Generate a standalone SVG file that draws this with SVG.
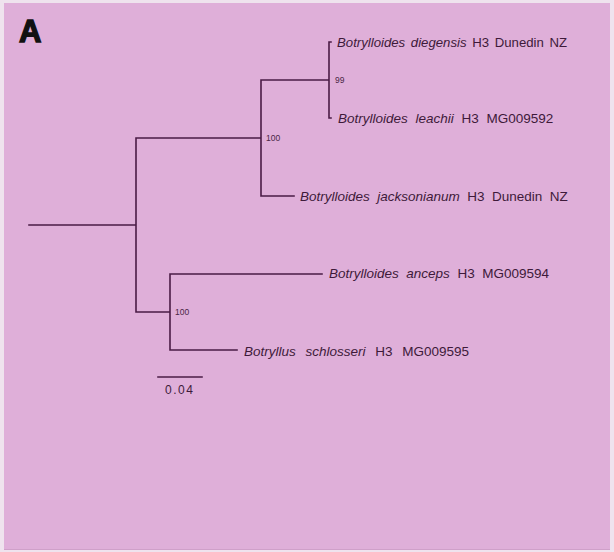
<svg xmlns="http://www.w3.org/2000/svg" width="614" height="552" viewBox="0 0 614 552">
<style>
.br{fill:none;stroke:#4a1c45;stroke-width:1.6;stroke-linecap:square}
.lf{font-family:"Liberation Sans",Arial,sans-serif;font-size:13.5px;fill:#3e1a3a;word-spacing:3px}
.it{font-style:italic}
.sp{font-family:"Liberation Sans",Arial,sans-serif;font-size:8.5px;fill:#4a2646}
</style>
<rect x="0" y="0" width="614" height="552" fill="#efe3ee"/>
<rect x="4" y="3" width="606" height="546" fill="#dfafd9"/>
<line x1="4" y1="549.5" x2="610" y2="549.5" stroke="#cfa0c9" stroke-width="1"/>
<text x="19" y="42" font-family="'Liberation Sans',Arial,sans-serif" font-weight="bold" font-size="31" fill="#111" stroke="#111" stroke-width="1.4">A</text>
<g id="connectors">
<path class="br" d="M29 225H136M136 138V312M136 138H261M261 80V196M261 80H329M329 42V118M329 42H331M329 118H331M261 196H294M136 312H170M170 274V350M170 274H322M170 350H237"/>
</g>
<g id="n99"><text class="sp" x="335" y="83">99</text></g>
<g id="n100a"><text class="sp" x="266" y="141">100</text></g>
<g id="n100b"><text class="sp" x="175" y="315">100</text></g>
<g id="leaf1"><text class="lf" x="337" y="47" style="word-spacing:2px;font-size:13.2px"><tspan class="it">Botrylloides diegensis</tspan> H3 Dunedin NZ</text></g>
<g id="leaf2"><text class="lf" x="338" y="123" style="word-spacing:4px"><tspan class="it">Botrylloides leachii</tspan> H3 MG009592</text></g>
<g id="leaf3"><text class="lf" x="300" y="201" style="word-spacing:3.7px"><tspan class="it">Botrylloides jacksonianum</tspan> H3 Dunedin NZ</text></g>
<g id="leaf4"><text class="lf" x="329" y="278" style="word-spacing:3.8px"><tspan class="it">Botrylloides anceps</tspan> H3 MG009594</text></g>
<g id="leaf5"><text class="lf" x="244" y="356" style="word-spacing:6px"><tspan class="it">Botryllus schlosseri</tspan> H3 MG009595</text></g>
<g id="scale">
<line class="br" x1="158" y1="377" x2="202" y2="377"/>
<text x="165" y="394" font-family="'Liberation Sans',Arial,sans-serif" font-size="12" letter-spacing="1.5" fill="#3e1a3a">0.04</text>
</g>
</svg>
